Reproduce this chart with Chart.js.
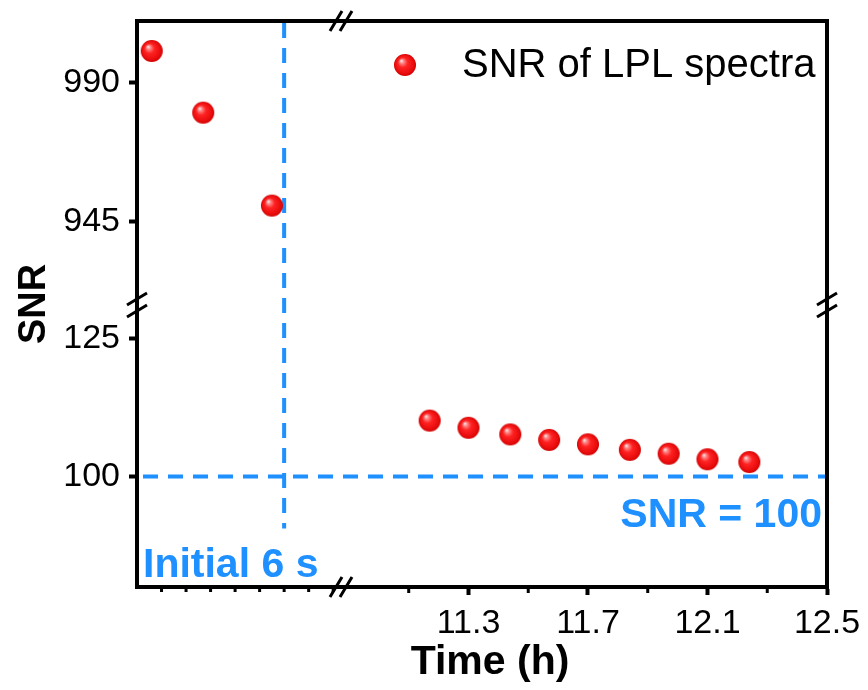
<!DOCTYPE html>
<html>
<head>
<meta charset="utf-8">
<title>SNR of LPL spectra</title>
<script src="https://cdn.jsdelivr.net/npm/chart.js@4.4.1/dist/chart.umd.min.js"></script>
<style>
    html, body { margin: 0; padding: 0; background: #fff; }
</style>
</head>
<body>
<canvas id="snrChart" width="868" height="690"></canvas>
<script>
// Initial 6 s (time in seconds), upper part of the broken y axis
const initialTimes = [0.6, 2.7, 5.5];
const initialSNR = [1000.3, 980.3, 950.2];

// Later measurements (time in hours), lower part of the broken y axis
const laterTimes = [11.17, 11.30, 11.44, 11.57, 11.70, 11.84, 11.97, 12.10, 12.24];
const laterSNR = [110.1, 108.8, 107.6, 106.6, 105.8, 104.8, 104.1, 103.1, 102.6];

// Tick labels
const xRightTicks = [11.3, 11.7, 12.1, 12.5];
const xRightMinorTicks = [11.1, 11.5, 11.9, 12.3];
const xLeftMinorTicks = [1, 2, 3, 4, 5, 6, 7, 8];
const yHighTicks = [945, 990];
const yLowTicks = [100, 125];

// Reference lines
const snrThreshold = 100;
const initialWindow = 6;
const initialLineBottom = 90.6;

const BLUE = '#1e90ff';
const FONT = '"Liberation Sans", Arial, sans-serif';

// Glossy red sphere used as point marker
function makeSphere(r) {
    const c = document.createElement('canvas');
    c.width = c.height = r * 2 + 2;
    const g = c.getContext('2d');
    const cx = r + 1, cy = r + 1;
    const grad = g.createRadialGradient(cx - r * 0.35, cy - r * 0.4, 0, cx, cy, r);
    grad.addColorStop(0, '#fff4f4');
    grad.addColorStop(0.2, '#ff8080');
    grad.addColorStop(0.45, '#ff2222');
    grad.addColorStop(0.85, '#e80c0c');
    grad.addColorStop(1, '#d00000');
    g.fillStyle = grad;
    g.beginPath();
    g.arc(cx, cy, r, 0, Math.PI * 2);
    g.fill();
    return c;
}
const sphere = makeSphere(11);

const setTicks = list => scale => { scale.ticks = list.map(v => ({ value: v })); };
// fixed axis sizes so the plot area matches the original figure
const fixWidth = scale => {
    scale.width = 137;
    scale.paddingTop = 0;
    scale.paddingBottom = 0;
};
const fixHeight = scale => {
    scale.height = 103;
    scale.paddingLeft = 0;
    scale.paddingRight = 0;
};

const tickFont = { family: FONT, size: 34 };
const axisBorder = { display: true, color: '#000', width: 4 };
const axisGrid = { drawOnChartArea: false, drawTicks: true, tickLength: 8, tickWidth: 4, tickColor: '#000' };

// Reference lines drawn under the points
const refLines = {
    id: 'refLines',
    beforeDatasetsDraw(chart) {
        const { ctx, chartArea, scales } = chart;
        ctx.save();
        ctx.strokeStyle = BLUE;
        ctx.lineWidth = 4;
        ctx.setLineDash([15, 10]);
        const y100 = scales.yLow.getPixelForValue(snrThreshold);
        ctx.beginPath();
        ctx.moveTo(chartArea.left + 6, y100);
        ctx.lineTo(chartArea.right, y100);
        ctx.stroke();
        const x6 = scales.xLeft.getPixelForValue(initialWindow);
        ctx.beginPath();
        ctx.moveTo(x6, chartArea.top + 2);
        ctx.lineTo(x6, scales.yLow.getPixelForValue(initialLineBottom));
        ctx.stroke();
        ctx.restore();
    }
};

// Frame, minor ticks, break marks, titles, legend and labels
const decorations = {
    id: 'decorations',
    afterDraw(chart) {
        const { ctx, chartArea, scales } = chart;
        const { left, right, top, bottom } = chartArea;
        ctx.save();
        ctx.strokeStyle = '#000';
        ctx.lineWidth = 4;
        ctx.beginPath();
        ctx.moveTo(left - 2, top);
        ctx.lineTo(right, top);
        ctx.lineTo(right, bottom + 2);
        ctx.stroke();

        // minor ticks
        ctx.lineWidth = 3;
        ctx.beginPath();
        xRightMinorTicks.forEach(v => {
            const x = scales.xRight.getPixelForValue(v);
            ctx.moveTo(x, bottom + 2);
            ctx.lineTo(x, bottom + 6);
        });
        xLeftMinorTicks.forEach(v => {
            const x = scales.xLeft.getPixelForValue(v);
            ctx.moveTo(x, bottom + 2);
            ctx.lineTo(x, bottom + 5);
        });
        ctx.stroke();

        // break marks
        const yBreak = scales.yLow.top;
        const xBreak = scales.xRight.left - 2;
        ctx.lineWidth = 3;
        ctx.beginPath();
        [left, right].forEach(x => {
            [-6, 6].forEach(d => {
                ctx.moveTo(x - 10, yBreak + d + 6);
                ctx.lineTo(x + 10, yBreak + d - 6);
            });
        });
        [top, bottom].forEach(y => {
            [-5, 5].forEach(d => {
                ctx.moveTo(xBreak + d - 6, y + 10);
                ctx.lineTo(xBreak + d + 6, y - 10);
            });
        });
        ctx.stroke();

        // axis titles
        ctx.fillStyle = '#000';
        ctx.textAlign = 'center';
        ctx.textBaseline = 'middle';
        ctx.font = 'bold 41px ' + FONT;
        ctx.fillText('Time (h)', 490, 663);
        ctx.save();
        ctx.translate(35, (top + bottom) / 2);
        ctx.rotate(-Math.PI / 2);
        ctx.font = 'bold 38px ' + FONT;
        ctx.fillText('SNR', 0, 0);
        ctx.restore();

        // legend
        ctx.drawImage(sphere, 405 - sphere.width / 2, 65 - sphere.height / 2);
        ctx.textAlign = 'left';
        ctx.font = '40px ' + FONT;
        ctx.fillText('SNR of LPL spectra', 462, 66);

        // annotations
        ctx.fillStyle = BLUE;
        ctx.font = 'bold 41px ' + FONT;
        ctx.textBaseline = 'alphabetic';
        ctx.fillText('Initial 6 s', left + 6, bottom - 10);
        ctx.textAlign = 'right';
        ctx.fillText('SNR = 100', right - 5, scales.yLow.getPixelForValue(snrThreshold) + 51);
        ctx.restore();
    }
};

new Chart(document.getElementById('snrChart'), {
    type: 'scatter',
    data: {
        datasets: [
            {
                label: 'SNR of LPL spectra',
                data: initialTimes.map((t, i) => ({ x: t, y: initialSNR[i] })),
                xAxisID: 'xLeft',
                yAxisID: 'yHigh',
                pointStyle: sphere,
                pointRadius: 11
            },
            {
                label: 'SNR of LPL spectra (later)',
                data: laterTimes.map((t, i) => ({ x: t, y: laterSNR[i] })),
                xAxisID: 'xRight',
                yAxisID: 'yLow',
                pointStyle: sphere,
                pointRadius: 11
            }
        ]
    },
    options: {
        responsive: false,
        animation: false,
        layout: { padding: { top: 21, right: 41, left: 0, bottom: 0 } },
        plugins: {
            legend: { display: false },
            tooltip: { enabled: false }
        },
        scales: {
            xLeft: {
                type: 'linear',
                position: 'bottom',
                stack: 'x',
                stackWeight: 206,
                min: 0,
                max: 8.4,
                afterBuildTicks: setTicks([]),
                afterFit: fixHeight,
                grid: { display: false },
                border: axisBorder,
                ticks: { display: false }
            },
            xRight: {
                type: 'linear',
                position: 'bottom',
                stack: 'x',
                stackWeight: 484,
                min: 10.88,
                max: 12.5,
                afterBuildTicks: setTicks(xRightTicks),
                afterFit: fixHeight,
                grid: axisGrid,
                border: axisBorder,
                ticks: {
                    font: tickFont,
                    color: '#000',
                    padding: 8,
                    maxRotation: 0,
                    autoSkip: false,
                    callback: v => v.toFixed(1)
                }
            },
            yLow: {
                type: 'linear',
                position: 'left',
                stack: 'y',
                stackWeight: 282,
                min: 80,
                max: 131,
                afterBuildTicks: setTicks(yLowTicks),
                afterFit: fixWidth,
                grid: axisGrid,
                border: axisBorder,
                ticks: { font: tickFont, color: '#000', padding: 9, callback: v => String(v) }
            },
            yHigh: {
                type: 'linear',
                position: 'left',
                stack: 'y',
                stackWeight: 284,
                min: 918,
                max: 1010,
                afterBuildTicks: setTicks(yHighTicks),
                afterFit: fixWidth,
                grid: axisGrid,
                border: axisBorder,
                ticks: { font: tickFont, color: '#000', padding: 9, callback: v => String(v) }
            }
        }
    },
    plugins: [refLines, decorations]
});
</script>
</body>
</html>
